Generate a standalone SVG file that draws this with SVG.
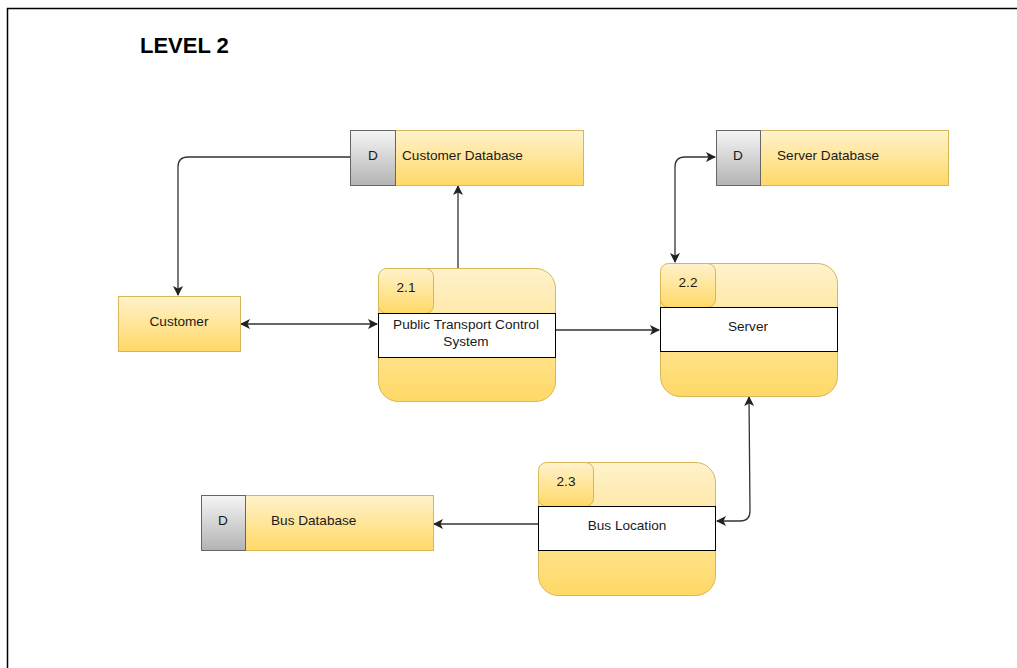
<svg xmlns="http://www.w3.org/2000/svg" width="1017" height="668" viewBox="0 0 1017 668">
  <defs>
    <linearGradient id="yellow" x1="0" y1="0" x2="0" y2="1">
      <stop offset="0" stop-color="#fff2cc"/>
      <stop offset="1" stop-color="#ffd966"/>
    </linearGradient>
    <linearGradient id="grey" x1="0" y1="0" x2="0" y2="1">
      <stop offset="0" stop-color="#f5f5f5"/>
      <stop offset="1" stop-color="#b3b3b3"/>
    </linearGradient>
    <marker id="arrow" viewBox="0 0 10 10" refX="9" refY="5" markerWidth="10" markerHeight="10" markerUnits="userSpaceOnUse" orient="auto-start-reverse">
      <path d="M0,0 L10,5 L0,10 L2.5,5 Z" fill="#222"/>
    </marker>
  </defs>
  <style>
    .y { fill: url(#yellow); stroke: #d6b656; stroke-width: 1; }
    .g { fill: url(#grey); stroke: #666666; stroke-width: 1; }
    .band { fill: #ffffff; stroke: #000000; stroke-width: 1; }
    .t { font-family: "Liberation Sans", Arial, sans-serif; font-size: 13.6px; fill: #1a1a1a; }
    .c { text-anchor: middle; }
    .edge { fill: none; stroke: #333333; stroke-width: 1.3; }
  </style>

  <rect width="1017" height="668" fill="#ffffff"/>
  <!-- page frame -->
  <path d="M7.5,668 V8.5 H1017" fill="none" stroke="#000" stroke-width="1.5"/>

  <text x="140" y="53" font-family="Liberation Sans, Arial, sans-serif" font-size="22" font-weight="bold" fill="#000">LEVEL 2</text>

  <!-- connectors -->
  <g id="connectors">
    <path class="edge" d="M350,157 H188 Q178,157 178,167 V295" marker-end="url(#arrow)"/>
    <path class="edge" d="M458,268 V186" marker-end="url(#arrow)"/>
    <path class="edge" d="M241,324 H377" marker-start="url(#arrow)" marker-end="url(#arrow)"/>
    <path class="edge" d="M555,330 H659" marker-end="url(#arrow)"/>
    <path class="edge" d="M715,157 H685 Q675,157 675,167 V262" marker-start="url(#arrow)" marker-end="url(#arrow)"/>
    <path class="edge" d="M749,397 L750,511 Q750,521 740,521 H717" marker-start="url(#arrow)" marker-end="url(#arrow)"/>
    <path class="edge" d="M538,524 H434" marker-end="url(#arrow)"/>
  </g>

  <!-- data stores -->
  <g id="customer-db">
    <rect class="y" x="395.5" y="130.5" width="188" height="55"/>
    <rect class="g" x="350.5" y="130.5" width="45" height="55"/>
    <text class="t c" x="373" y="160">D</text>
    <text class="t" x="402" y="160">Customer Database</text>
  </g>
  <g id="server-db">
    <rect class="y" x="760.5" y="130.5" width="188" height="55"/>
    <rect class="g" x="716.5" y="130.5" width="44" height="55"/>
    <text class="t c" x="738" y="160">D</text>
    <text class="t" x="777" y="160">Server Database</text>
  </g>
  <g id="bus-db">
    <rect class="y" x="245.5" y="495.5" width="188" height="55"/>
    <rect class="g" x="201.5" y="495.5" width="44" height="55"/>
    <text class="t c" x="223" y="525">D</text>
    <text class="t" x="271" y="525">Bus Database</text>
  </g>

  <!-- external entity -->
  <g id="customer">
    <rect class="y" x="118.5" y="296.5" width="122" height="55"/>
    <text class="t c" x="179" y="326">Customer</text>
  </g>

  <!-- processes -->
  <g id="process-2-1">
    <rect class="y" x="378.5" y="268.5" width="177" height="133" rx="20" ry="20"/>
    <rect class="y" x="378.5" y="268.5" width="55" height="45" rx="8" ry="8"/>
    <text class="t c" x="406" y="292">2.1</text>
    <rect class="band" x="378.5" y="313.5" width="177" height="44"/>
    <text class="t c" x="466" y="329">Public Transport Control</text>
    <text class="t c" x="466" y="346">System</text>
  </g>
  <g id="process-2-2">
    <rect class="y" x="660.5" y="263.5" width="177" height="133" rx="20" ry="20"/>
    <rect class="y" x="660.5" y="263.5" width="55" height="44" rx="8" ry="8"/>
    <text class="t c" x="688" y="287">2.2</text>
    <rect class="band" x="660.5" y="307.5" width="177" height="44"/>
    <text class="t c" x="748" y="331">Server</text>
  </g>
  <g id="process-2-3">
    <rect class="y" x="538.5" y="462.5" width="177" height="133" rx="20" ry="20"/>
    <rect class="y" x="538.5" y="462.5" width="55" height="44" rx="8" ry="8"/>
    <text class="t c" x="566" y="486">2.3</text>
    <rect class="band" x="538.5" y="506.5" width="177" height="44"/>
    <text class="t c" x="627" y="530">Bus Location</text>
  </g>
</svg>
